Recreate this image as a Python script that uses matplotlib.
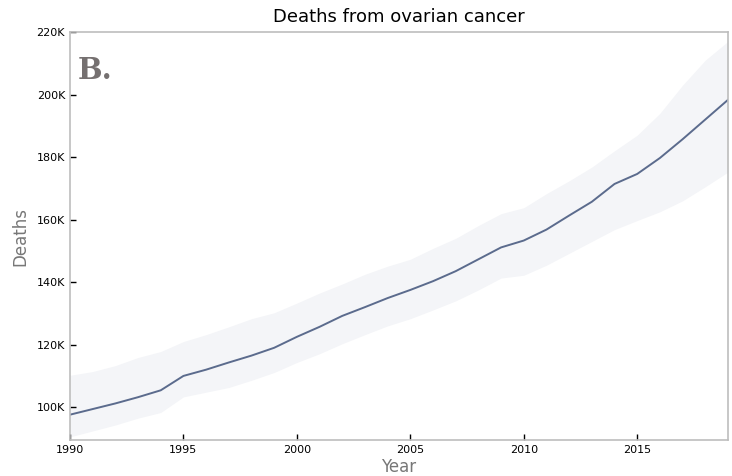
import matplotlib
matplotlib.use("Agg")
import matplotlib.pyplot as plt
from matplotlib.ticker import FuncFormatter

years = list(range(1990, 2020))
deaths_mean = [97.6, 99.4, 101.2, 103.2, 105.4, 110.0, 112.0, 114.3, 116.5, 119.0,
               122.5, 125.7, 129.2, 132.0, 134.9, 137.5, 140.3, 143.5, 147.3, 151.1,
               153.3, 156.8, 161.3, 165.7, 171.4, 174.6, 179.7, 185.7, 192.0, 198.3]
deaths_upper = [110.2, 111.4, 113.3, 115.9, 117.8, 121.0, 123.2, 125.7, 128.3, 130.2,
                133.3, 136.5, 139.4, 142.5, 145.1, 147.3, 150.8, 154.0, 158.1, 161.9,
                163.8, 168.3, 172.4, 176.8, 182.0, 187.0, 194.0, 203.0, 211.0, 217.0]
deaths_lower = [90.5, 92.4, 94.3, 96.5, 98.3, 103.3, 104.8, 106.3, 108.6, 111.1,
                114.3, 117.1, 120.3, 123.2, 126.0, 128.3, 131.1, 134.0, 137.5, 141.3,
                142.2, 145.4, 149.2, 153.0, 156.8, 159.7, 162.5, 166.0, 170.5, 175.2]

fig = plt.figure(figsize=(7.32, 4.76), dpi=100)
ax = fig.add_axes([0.0956, 0.0756, 0.8989, 0.8572])

k = 1000
ax.fill_between(years, [v * k for v in deaths_lower], [v * k for v in deaths_upper],
                color="#f4f5f8", linewidth=0)
ax.plot(years, [v * k for v in deaths_mean], color="#5b6b8d", linewidth=1.4)

ax.set_xlim(1990, 2019)
ax.set_ylim(89500, 220000)
ax.set_xticks([1990, 1995, 2000, 2005, 2010, 2015])
ax.set_yticks([100000, 120000, 140000, 160000, 180000, 200000, 220000])
ax.yaxis.set_major_formatter(FuncFormatter(lambda v, p: "%dK" % round(v / 1000)))
ax.tick_params(direction="in", length=4, width=1, labelsize=8, colors="black")

for s in ax.spines.values():
    s.set_color("#bdbdbd")
    s.set_linewidth(1.2)

ax.set_title("Deaths from ovarian cancer", fontsize=13, pad=7)
ax.set_xlabel("Year", fontsize=12, color="#777777", labelpad=2)
ax.set_ylabel("Deaths", fontsize=12, color="#777777", labelpad=5)

ax.text(0.012, 0.94, "B.", transform=ax.transAxes, fontsize=21, fontweight="bold",
        family="DejaVu Serif", color="#757070", va="top", ha="left")

fig.savefig("out.png", dpi=100)
